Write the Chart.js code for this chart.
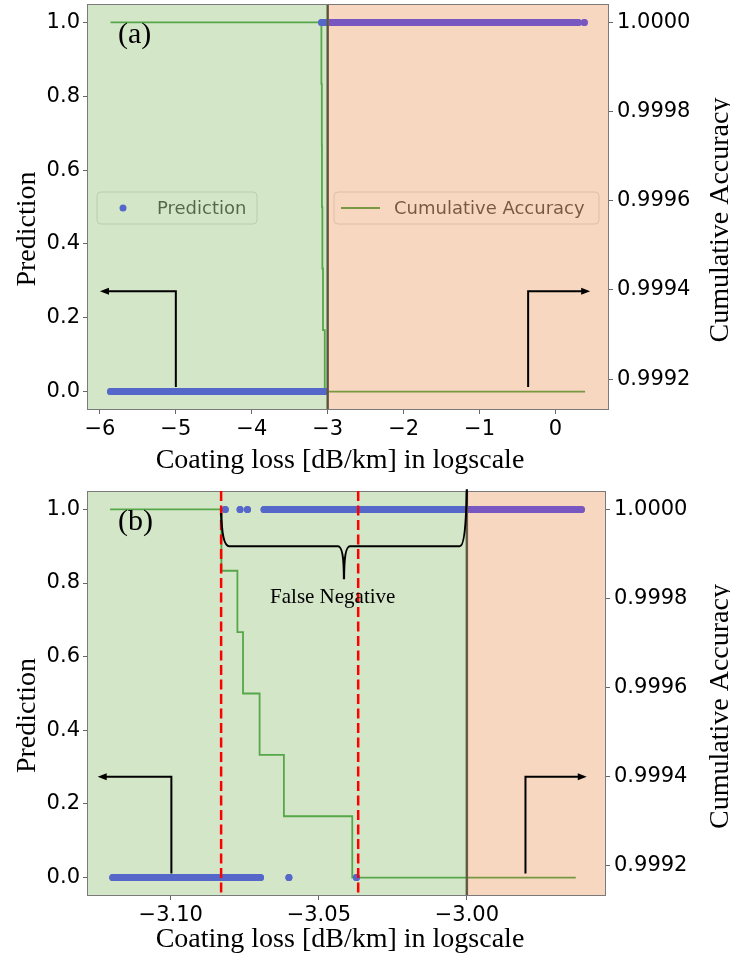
<!DOCTYPE html>
<html>
<head>
<meta charset="utf-8">
<script src="https://cdn.jsdelivr.net/npm/chart.js@4.4.1/dist/chart.umd.min.js"></script>
<style>
  html, body { margin: 0; padding: 0; background: #fff; }
  .panel { position: absolute; left: 0; }
  #panelA { top: 0; }
  #panelB { top: 481px; }
</style>
</head>
<body>
<div class="panel" id="panelA"><canvas id="chartA" width="730" height="481"></canvas></div>
<div class="panel" id="panelB"><canvas id="chartB" width="730" height="482"></canvas></div>
<script>
// ---- data ----
const threshold = -3.0;

// (a) full coating-loss range
const xTicksA = [-6, -5, -4, -3, -2, -1, 0];
const xLimA = [-6.17, 0.705];
const predRunsA = [[-5.86, -3.035, 0], [-3.08, 0.30, 1]];   // [from, to, prediction]
const predDotsA = [[0.38, 1]];
const accRangeA = [-5.86, 0.39];

// (b) close-up around the threshold
const xTicksB = [-3.10, -3.05, -3.00];
const xLimB = [-3.1283, -2.9530];
const predRunsB = [[-3.1196, -3.0697, 0], [-3.0685, -2.9613, 1]];
const predDotsB = [[-3.0601, 0], [-3.0373, 0], [-3.0816, 1], [-3.0766, 1], [-3.0741, 1]];
const accRangeB = [-3.1205, -2.9632];
const fnBounds = [-3.0830, -3.0367];

// cumulative accuracy steps (shared)
const accDropX = [-3.0829, -3.0775, -3.0756, -3.0700, -3.0618, -3.0387];
const accLevels = [1.0, 0.999862, 0.999724, 0.999586, 0.999448, 0.99931, 0.999172];

const predTicks = [0, 0.2, 0.4, 0.6, 0.8, 1.0];
const accTicks = [0.9992, 0.9994, 0.9996, 0.9998, 1.0];

// arrows: vertical at x from y0 to y1 (prediction units), then horizontal to tip
const arrowsA = [{ x: -5.0, y0: 0.012, y1: 0.272, tip: -6.0 }, { x: -0.36, y0: 0.012, y1: 0.272, tip: 0.457 }];
const arrowsB = [{ x: -3.0998, y0: 0.011, y1: 0.274, tip: -3.1247 }, { x: -2.9802, y0: 0.011, y1: 0.274, tip: -2.9595 }];

const SERIF = '"Liberation Serif", "Times New Roman", serif';
const SANS = '"DejaVu Sans", sans-serif';
const BLUE = 'rgb(0,0,255)';
const GREEN = 'rgb(0,128,0)';
const minus = s => s.replace('-', '\u2212');

function predPoints(runs, dots) {
  const pts = [];
  runs.forEach(([x0, x1, p]) => pts.push({ x: x0, y: p }, { x: x1, y: p }, { x: x1, y: null }));
  dots.forEach(([x, p]) => pts.push({ x, y: p }, { x, y: null }));
  return pts;
}

function accPoints([x0, x1]) {
  const pts = [{ x: x0, y: accLevels[0] }];
  accDropX.forEach((x, i) => pts.push({ x, y: accLevels[i + 1] }));
  pts.push({ x: x1, y: accLevels[accLevels.length - 1] });
  return pts;
}

function roundRect(ctx, x, y, w, h, r) {
  ctx.beginPath();
  ctx.moveTo(x + r, y);
  ctx.arcTo(x + w, y, x + w, y + h, r);
  ctx.arcTo(x + w, y + h, x, y + h, r);
  ctx.arcTo(x, y + h, x, y, r);
  ctx.arcTo(x, y, x + w, y, r);
  ctx.closePath();
}

function drawArrow(ctx, xs, ys, a) {
  const x = xs.getPixelForValue(a.x), yb = ys.getPixelForValue(a.y0), yt = ys.getPixelForValue(a.y1);
  const tx = xs.getPixelForValue(a.tip), dir = Math.sign(tx - x);
  ctx.strokeStyle = '#000'; ctx.fillStyle = '#000'; ctx.lineWidth = 2;
  ctx.beginPath();
  ctx.moveTo(x, yb); ctx.lineTo(x, yt); ctx.lineTo(tx - 6 * dir, yt);
  ctx.stroke();
  ctx.beginPath();
  ctx.moveTo(tx, yt); ctx.lineTo(tx - 9 * dir, yt - 3.5); ctx.lineTo(tx - 9 * dir, yt + 3.5);
  ctx.closePath(); ctx.fill();
}

function drawBrace(ctx, xs, ys) {
  const xl = xs.getPixelForValue(fnBounds[0]), xr = xs.getPixelForValue(threshold);
  const xm = (xl + xr) / 2;
  const yl = ys.getPixelForValue(0.99), yr = ys.getPixelForValue(1.055);
  const yh = ys.getPixelForValue(0.90), ytip = ys.getPixelForValue(0.81);
  ctx.strokeStyle = '#000'; ctx.lineWidth = 2.2;
  ctx.beginPath();
  ctx.moveTo(xl, yl);
  ctx.quadraticCurveTo(xl + 1, yh, xl + 8, yh);
  ctx.lineTo(xm - 6, yh);
  ctx.quadraticCurveTo(xm, yh, xm, ytip);
  ctx.moveTo(xm, ytip);
  ctx.quadraticCurveTo(xm, yh, xm + 6, yh);
  ctx.lineTo(xr - 7, yh);
  ctx.quadraticCurveTo(xr - 1, yh, xr, yr);
  ctx.stroke();
}

const decor = {
  id: 'decor',
  beforeDatasetsDraw(chart, args, o) {
    if (!o.legend) return;
    const { ctx, chartArea: ca } = chart;
    const boxes = [
      { x: ca.left + 10, w: 160, text: 'Prediction', dot: true },
      { x: ca.left + 247, w: 265, text: 'Cumulative Accuracy', dot: false }
    ];
    const y = ca.top + 188, h = 32;
    ctx.save();
    boxes.forEach(b => {
      roundRect(ctx, b.x, y, b.w, h, 4);
      ctx.fillStyle = 'rgba(255,255,255,0.8)'; ctx.fill();
      ctx.strokeStyle = '#ccc'; ctx.lineWidth = 1; ctx.stroke();
      if (b.dot) {
        ctx.fillStyle = BLUE;
        ctx.beginPath(); ctx.arc(b.x + 26, y + h / 2, 3.5, 0, Math.PI * 2); ctx.fill();
      } else {
        ctx.strokeStyle = GREEN; ctx.lineWidth = 2;
        ctx.beginPath(); ctx.moveTo(b.x + 7, y + h / 2); ctx.lineTo(b.x + 46, y + h / 2); ctx.stroke();
      }
      ctx.fillStyle = '#000'; ctx.font = `18px ${SANS}`;
      ctx.textBaseline = 'middle'; ctx.textAlign = 'left';
      ctx.fillText(b.text, b.x + 60, y + h / 2 + 1);
    });
    ctx.restore();
  },
  afterDatasetsDraw(chart, args, o) {
    const { ctx, chartArea: ca, scales } = chart;
    const xs = scales.x, ys = scales.y;
    const xt = xs.getPixelForValue(threshold);
    ctx.save();
    // threshold line sits under the shading
    ctx.strokeStyle = '#000'; ctx.lineWidth = 2.5;
    ctx.beginPath(); ctx.moveTo(xt, ca.top); ctx.lineTo(xt, ca.bottom); ctx.stroke();
    ctx.fillStyle = 'rgba(169,205,145,0.5)';
    ctx.fillRect(ca.left, ca.top, xt - ca.left, ca.height);
    ctx.fillStyle = 'rgba(239,175,129,0.5)';
    ctx.fillRect(xt, ca.top, ca.right - xt, ca.height);
    // frame
    ctx.strokeStyle = '#7a7a7a'; ctx.lineWidth = 1;
    ctx.strokeRect(ca.left + 0.5, ca.top + 0.5, ca.width - 1, ca.height - 1);

    if (o.fn) {
      ctx.strokeStyle = 'rgb(255,0,0)'; ctx.lineWidth = 2.5; ctx.setLineDash([10, 4.5]);
      fnBounds.forEach(v => {
        const px = xs.getPixelForValue(v);
        ctx.beginPath(); ctx.moveTo(px, ca.top); ctx.lineTo(px, ca.bottom); ctx.stroke();
      });
      ctx.setLineDash([]);
      drawBrace(ctx, xs, ys);
      ctx.fillStyle = '#000'; ctx.font = `21px ${SERIF}`;
      ctx.textAlign = 'center'; ctx.textBaseline = 'alphabetic';
      ctx.fillText('False Negative', xs.getPixelForValue(-3.0453), ys.getPixelForValue(0.747));
    }
    o.arrows.forEach(a => drawArrow(ctx, xs, ys, a));

    ctx.fillStyle = '#000'; ctx.font = `30px ${SERIF}`;
    ctx.textAlign = 'left'; ctx.textBaseline = 'alphabetic';
    ctx.fillText(o.tag, ca.left + 31, ca.top + 39);
    ctx.restore();
  },
  afterDraw(chart, args, o) {
    const { ctx, chartArea: ca } = chart;
    const cy = (ca.top + ca.bottom) / 2;
    ctx.save();
    ctx.fillStyle = '#000'; ctx.font = `28px ${SERIF}`;
    ctx.textAlign = 'center'; ctx.textBaseline = 'alphabetic';
    ctx.fillText('Coating loss [dB/km] in logscale', 340, o.xTitleY);
    ctx.save(); ctx.translate(35, cy + o.leftShift); ctx.rotate(-Math.PI / 2);
    ctx.fillText('Prediction', 0, 0); ctx.restore();
    ctx.save(); ctx.translate(728, cy + o.rightShift); ctx.rotate(-Math.PI / 2);
    ctx.fillText('Cumulative Accuracy', 0, 0); ctx.restore();
    ctx.restore();
  }
};

const accMin = Math.min(...accLevels);
const accPad = 0.05 * (1 - accMin);

function axisGrid() {
  return { display: true, drawOnChartArea: false, drawTicks: true, tickLength: 4, color: '#666', lineWidth: 1 };
}

// fixed axis sizes so the plot box lands where it should
function fitY(width) {
  return s => { s.width = width; s.paddingTop = 0; s.paddingBottom = 0; };
}

function makePanel(id, cfg) {
  return new Chart(document.getElementById(id), {
    type: 'scatter',
    data: {
      datasets: [
        {
          label: 'Prediction',
          data: predPoints(cfg.runs, cfg.dots),
          showLine: true,
          borderColor: BLUE, backgroundColor: BLUE,
          borderWidth: 7, borderCapStyle: 'round', borderJoinStyle: 'round',
          pointRadius: 3.5, pointBorderWidth: 0, pointBackgroundColor: BLUE,
          spanGaps: false, yAxisID: 'y'
        },
        {
          label: 'Cumulative Accuracy',
          data: accPoints(cfg.accRange),
          showLine: true, stepped: 'before',
          borderColor: GREEN, borderWidth: 1.8,
          pointRadius: 0, yAxisID: 'y1'
        }
      ]
    },
    options: {
      responsive: false,
      animation: false,
      events: [],
      layout: { padding: { top: cfg.padTop, left: 0, right: 0, bottom: 0 } },
      scales: {
        x: {
          type: 'linear', min: cfg.xLim[0], max: cfg.xLim[1],
          grid: axisGrid(), border: { display: false },
          afterBuildTicks: s => { s.ticks = cfg.xTicks.map(v => ({ value: v })); },
          afterFit: s => { s.height = cfg.xHeight; s.paddingLeft = 0; s.paddingRight = 0; },
          ticks: {
            autoSkip: false, maxRotation: 0, padding: 3, color: '#000',
            font: { family: SANS, size: 21 },
            callback: v => minus(v.toFixed(cfg.xDigits))
          }
        },
        y: {
          position: 'left', min: -0.05, max: 1.05,
          grid: axisGrid(), border: { display: false },
          afterBuildTicks: s => { s.ticks = predTicks.map(v => ({ value: v })); },
          afterFit: fitY(87),
          ticks: { padding: 3, color: '#000', font: { family: SANS, size: 21 }, callback: v => v.toFixed(1) }
        },
        y1: {
          position: 'right', min: accMin - accPad, max: 1 + accPad,
          grid: axisGrid(), border: { display: false },
          afterBuildTicks: s => { s.ticks = accTicks.map(v => ({ value: v })); },
          afterFit: fitY(cfg.rightWidth),
          ticks: { padding: 4, color: '#000', font: { family: SANS, size: 21 }, callback: v => v.toFixed(4) }
        }
      },
      plugins: {
        legend: { display: false },
        tooltip: { enabled: false },
        decor: cfg.decor
      }
    },
    plugins: [decor]
  });
}

makePanel('chartA', {
  runs: predRunsA, dots: predDotsA, accRange: accRangeA,
  xLim: xLimA, xTicks: xTicksA, xDigits: 0,
  padTop: 3, xHeight: 71, rightWidth: 121,
  decor: { tag: '(a)', legend: true, fn: false, arrows: arrowsA, xTitleY: 468, leftShift: 22, rightShift: 13 }
});

makePanel('chartB', {
  runs: predRunsB, dots: predDotsB, accRange: accRangeB,
  xLim: xLimB, xTicks: xTicksB, xDigits: 2,
  padTop: 10, xHeight: 67, rightWidth: 124,
  decor: { tag: '(b)', legend: false, fn: true, arrows: arrowsB, xTitleY: 466, leftShift: 22, rightShift: 13 }
});
</script>
</body>
</html>
